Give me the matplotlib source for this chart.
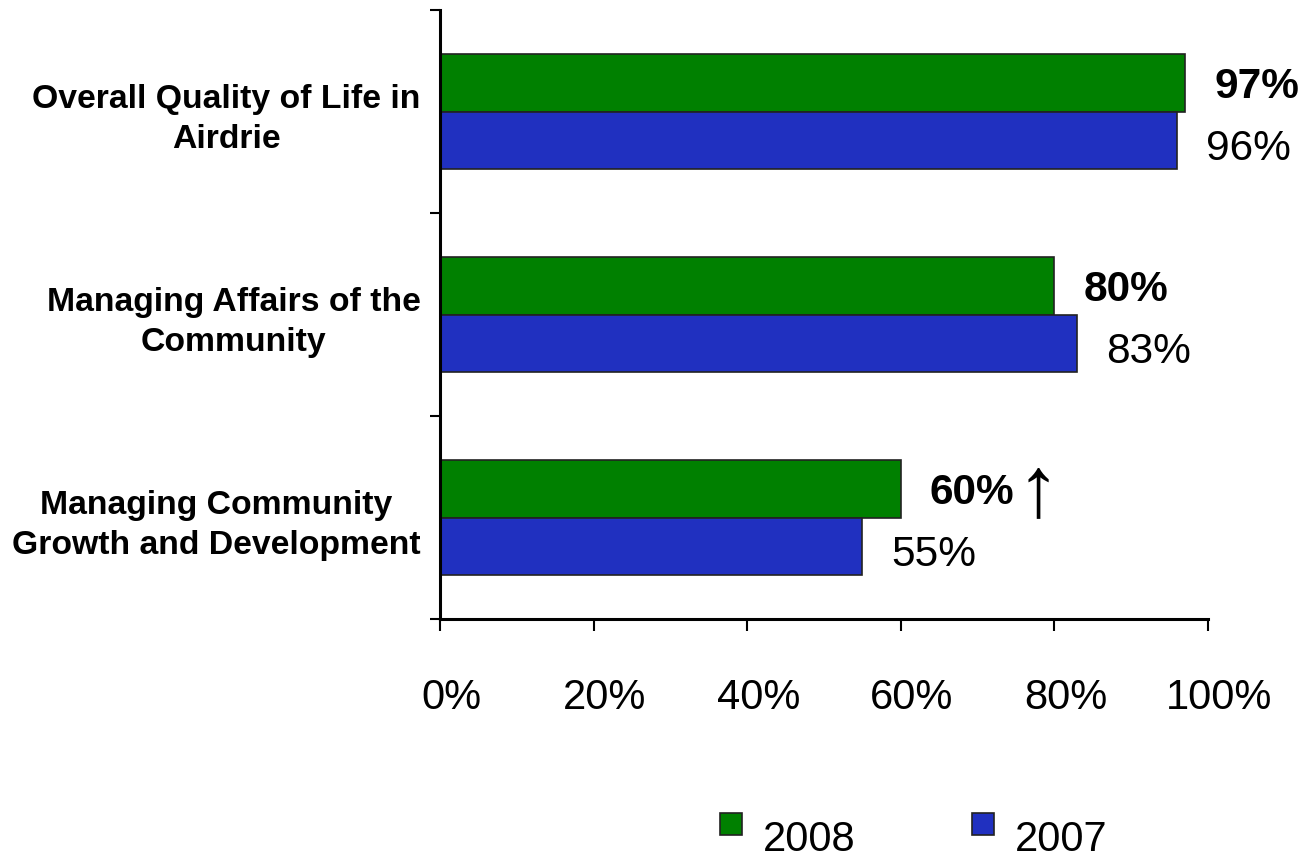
import matplotlib
matplotlib.use("Agg")
import matplotlib.pyplot as plt
import matplotlib.transforms as mtransforms
import numpy as np
from matplotlib.patches import Rectangle
from matplotlib.legend_handler import HandlerPatch

plt.rcParams['font.family'] = ['Liberation Sans', 'DejaVu Sans']

categories = ["Overall Quality of Life in\nAirdrie",
              "Managing Affairs of the\nCommunity",
              "Managing Community\nGrowth and Development"]
values_2008 = [97, 80, 60]
values_2007 = [96, 83, 55]
series_names = ["2008", "2007"]
xtick_values = [0, 20, 40, 60, 80, 100]
xtick_labels = ["0%", "20%", "40%", "60%", "80%", "100%"]

green = '#008000'
blue = '#2030C0'

W, H = 1316, 865
fig = plt.figure(figsize=(W / 100, H / 100), dpi=100)
ax = fig.add_axes([440 / W, 1 - 619 / H, 768 / W, 609 / H])

y = np.arange(len(categories))
bh = 0.285
b1 = ax.barh(y - bh / 2, values_2008, height=bh, color=green, edgecolor='#222222', linewidth=1.2, label=series_names[0])
b2 = ax.barh(y + bh / 2, values_2007, height=bh, color=blue, edgecolor='#222222', linewidth=1.2, label=series_names[1])

ax.set_xlim(0, 100)
ax.set_ylim(len(categories) - 0.5, -0.5)

for yy, v in zip(y, values_2008):
    ax.annotate(f"{v}%", xy=(v, yy - bh / 2), xytext=(21, -3), textcoords='offset points',
                ha='left', va='center', fontsize=30.5, fontweight='bold')
for yy, v in zip(y, values_2007):
    ax.annotate(f"{v}%", xy=(v, yy + bh / 2), xytext=(21, -6), textcoords='offset points',
                ha='left', va='center', fontsize=30.5)

# up arrow next to the third 2008 label
ax.annotate("\u2191", xy=(values_2008[2], y[2] - bh / 2), xytext=(83, -3), textcoords='offset points',
            ha='left', va='center', fontsize=62, family=['Liberation Sans', 'DejaVu Sans'])

for s in ['top', 'right']:
    ax.spines[s].set_visible(False)
for s in ['left', 'bottom']:
    ax.spines[s].set_linewidth(2.2)

ax.set_xticks(xtick_values)
ax.set_xticklabels(xtick_labels, fontsize=30)
ax.tick_params(axis='x', direction='out', length=8.5, width=1.5, pad=34)
shift = mtransforms.ScaledTranslation(11 / 100, 0, fig.dpi_scale_trans)
for lab in ax.get_xticklabels():
    lab.set_transform(lab.get_transform() + shift)

ax.set_yticks(y)
ax.set_yticklabels(categories, fontsize=24.3, fontweight='bold', multialignment='center', linespacing=1.38)
ax.tick_params(axis='y', which='major', length=0, pad=14)
ax.set_yticks(np.arange(-0.5, len(categories)), minor=True)
ax.tick_params(axis='y', which='minor', direction='out', length=7, width=1.5)


def square_patch(legend, orig_handle, xdescent, ydescent, width, height, fontsize):
    return Rectangle((-xdescent, -ydescent + 0.55 * height), width, width,
                     facecolor=orig_handle.get_facecolor(), edgecolor='#222222', linewidth=1.2)


handler = HandlerPatch(patch_func=square_patch)
leg = fig.legend(handles=[b1.patches[0], b2.patches[0]], labels=series_names,
                 handler_map={b1.patches[0]: handler, b2.patches[0]: handler},
                 loc='center left', bbox_to_anchor=(720 / W, 1 - 840 / H),
                 ncol=2, frameon=False, fontsize=30, borderpad=0, borderaxespad=0,
                 handlelength=0.53, handleheight=0.53, handletextpad=0.5, columnspacing=2.8)

fig.savefig("out.png", dpi=100)
